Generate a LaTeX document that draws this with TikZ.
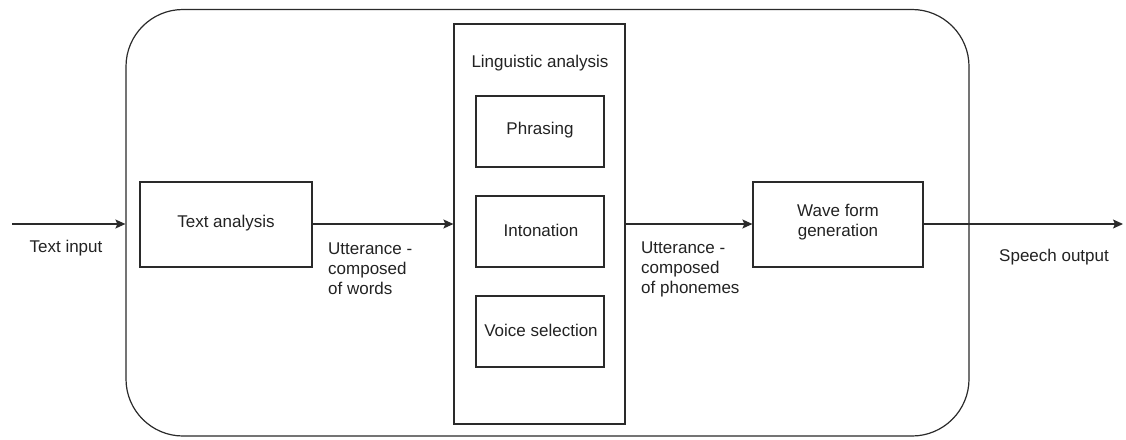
\documentclass[tikz,border=0pt]{standalone}
\usepackage{fontspec}
\setmainfont{Liberation Sans}
\usetikzlibrary{arrows.meta}

\definecolor{linecol}{HTML}{2A2A2A}
\definecolor{textcol}{HTML}{222222}

\tikzset{
  base/.style={font=\fontsize{17}{20}\selectfont, text=textcol},
  blockbox/.style={base, draw=linecol, line width=1.2pt, inner sep=0pt},
  label/.style={base, inner sep=0pt, align=left},
  flow/.style={draw=linecol, line width=1.2pt, -{Stealth[length=10pt,width=9pt,inset=2pt]}},
}

\begin{document}
\begin{tikzpicture}[x=1pt,y=-1pt]
  \useasboundingbox (0,0) rectangle (1126,439);

  % enclosing system frame
  \node[blockbox, rounded corners=57pt, minimum width=843pt, minimum height=426.5pt] (frame) at (547.5,222.75) {};

  % processing blocks
  \node[blockbox, minimum width=172pt, minimum height=85pt] (textan) at (226,224.5) {};
  \node[base] at (226,223) {Text analysis};

  \node[blockbox, minimum width=171pt, minimum height=400pt] (ling) at (539.5,224) {};
  \node[base] (lingtitle) at (540,63) {Linguistic analysis};

  \node[blockbox, minimum width=128pt, minimum height=71pt] (phr) at (540,131.5) {};
  \node[base] at (540,130) {Phrasing};
  \node[blockbox, minimum width=128pt, minimum height=71pt] (inton) at (540,231.5) {};
  \node[base] at (541,230) {Intonation};
  \node[blockbox, minimum width=128pt, minimum height=71pt] (voice) at (540,331.5) {};
  \node[base] at (541,330) {Voice selection};

  \node[blockbox, minimum width=170pt, minimum height=85pt] (wave) at (838,224.5) {};
  \node[base, align=center] at (838,222.5) {Wave form\\generation};

  % signal flow
  \coordinate (in) at (12,224);
  \coordinate (out) at (1123,224);
  \draw[flow] (in) -- (in -| frame.west);
  \draw[flow] (textan.east |- in) -- (ling.west |- in);
  \draw[flow] (ling.east |- in) -- (wave.west |- in);
  \draw[flow] (wave.east |- in) -- (out);

  % flow labels
  \node[label] (lin) at (66,248) {Text input};
  \node[label, anchor=west] (lwords) at (328,269) {Utterance -\\composed\\of words};
  \node[label, anchor=west] (lphon) at (641,269) {Utterance -\\composed\\of phonemes};
  \node[label, anchor=west] (lout) at (999,257) {Speech output};
\end{tikzpicture}
\end{document}
